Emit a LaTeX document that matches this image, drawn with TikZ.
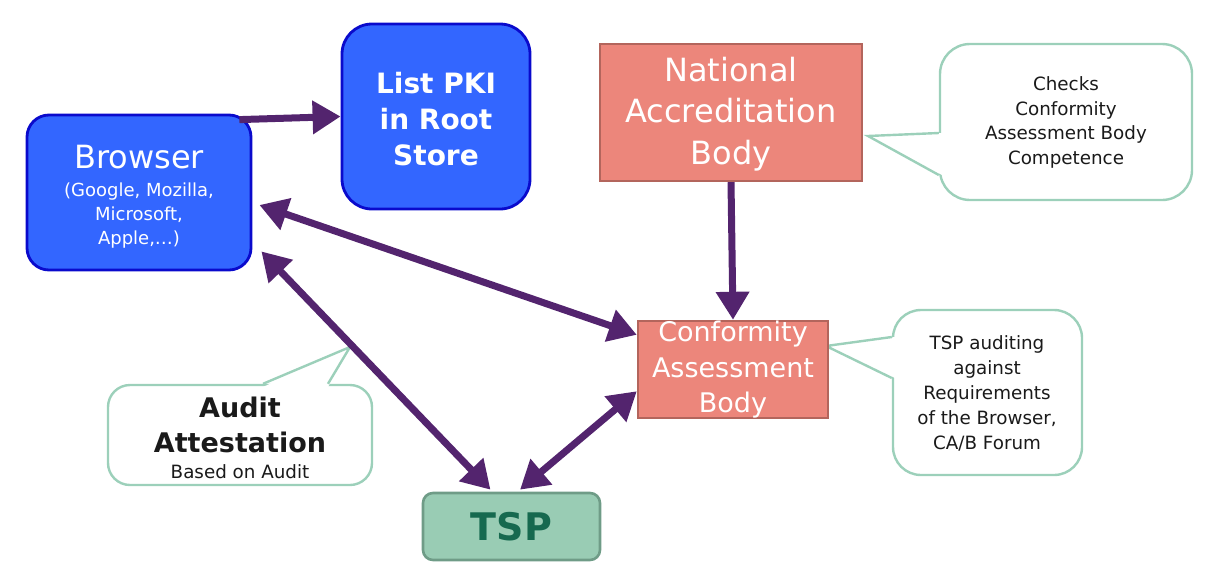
\documentclass[tikz,border=0pt]{standalone}
\usepackage{fontspec}
\setmainfont{DejaVu Sans}
\usetikzlibrary{arrows.meta,calc}
\definecolor{bluefill}{HTML}{3366FF}
\definecolor{blueline}{HTML}{0A0ACC}
\definecolor{redfill}{HTML}{EC867B}
\definecolor{redline}{HTML}{B3655C}
\definecolor{tspfill}{HTML}{99CCB4}
\definecolor{tspline}{HTML}{6F9C87}
\definecolor{tsptext}{HTML}{16694F}
\definecolor{callc}{HTML}{9CD0BA}
\definecolor{arrowc}{HTML}{53246E}
\definecolor{inkc}{HTML}{1A1A1A}
\begin{document}
\begin{tikzpicture}[x=1pt,y=-1pt,
  bluebox/.style={draw=blueline, fill=bluefill, line width=2.8pt, rounded corners=24pt, inner sep=0pt},
  redbox/.style={draw=redline, fill=redfill, line width=2.4pt, inner sep=0pt},
  callbox/.style={draw=callc, fill=white, line width=2.4pt, inner sep=0pt},
  callline/.style={draw=callc, line width=2.4pt, line join=miter},
  txt/.style={inner sep=0pt, align=center},
  conn/.style={draw=arrowc, line width=7pt, -{Triangle[length=28pt,width=32pt]}},
  bconn/.style={draw=arrowc, line width=7pt, {Triangle[length=28pt,width=32pt]}-{Triangle[length=28pt,width=32pt]}}
]
\useasboundingbox (0,0) rectangle (1206,573);

% callouts
\node[callbox, rounded corners=30pt, minimum width=252pt, minimum height=156pt] (chk) at (1066,122) {};
\fill[white] (942,133) -- (868,136) -- (942,175) -- cycle;
\draw[callline] ($(chk.west)+(0,11)$) -- (868,136) -- ($(chk.west)+(0,53)$);

\node[callbox, rounded corners=28pt, minimum width=189pt, minimum height=165pt] (req) at (987.5,392.5) {};
\fill[white] (895,337) -- (826,346) -- (895,378) -- cycle;
\draw[callline] ($(req.west)+(0,-55.5)$) -- (826,346) -- ($(req.west)+(0,-14.5)$);

\node[callbox, rounded corners=22pt, minimum width=264pt, minimum height=100pt] (att) at (240,435) {};
\fill[white] (263,387) -- (350,347) -- (328,387) -- cycle;
\draw[callline] ($(att.north)+(23,0)$) -- (350,347) -- ($(att.north)+(88,0)$);

% boxes
\node[bluebox, rounded corners=22pt, minimum width=224pt, minimum height=155pt] (browser) at (139,192.5) {};
\node[bluebox, rounded corners=30pt, minimum width=188pt, minimum height=185pt] (pki) at (436,116.5) {};
\node[redbox, minimum width=262pt, minimum height=137pt] (nab) at (731,112.5) {};
\node[redbox, minimum width=190pt, minimum height=97pt] (cab) at (733,369.5) {};
\node[draw=tspline, fill=tspfill, line width=2.6pt, rounded corners=10pt, minimum width=177pt, minimum height=67pt, inner sep=0pt] (tsp) at (511.5,526.5) {};

% texts
\node[txt, text=white, font=\fontsize{32}{36}\selectfont] (browserT) at (139,157) {Browser};
\node[txt, text=white, font=\fontsize{18}{24}\selectfont] (browserS) at (139,216) {(Google, Mozilla,\\Microsoft,\\Apple,\ldots)};
\node[txt, text=white, font=\bfseries\fontsize{28}{36}\selectfont] (pkiT) at (436,119) {List PKI\\in Root\\Store};
\node[txt, text=white, font=\fontsize{32}{41.5}\selectfont] (nabT) at (731,114) {National\\Accreditation\\Body};
\node[txt, text=white, font=\fontsize{27}{35.5}\selectfont] (cabT) at (733,370) {Conformity\\Assessment\\Body};
\node[txt, text=inkc, font=\fontsize{18.3}{24.4}\selectfont] (chkT) at (1066,122.5) {Checks\\Conformity\\Assessment Body\\Competence};
\node[txt, text=inkc, font=\fontsize{18.3}{25}\selectfont] (reqT) at (987,393) {TSP auditing\\against\\Requirements\\of the Browser,\\CA/B Forum};
\node[txt, text=inkc, font=\bfseries\fontsize{27}{35}\selectfont] (attT) at (240,424.5) {Audit\\Attestation};
\node[txt, text=inkc, font=\fontsize{18.3}{24}\selectfont] (attS) at (240,472) {Based on Audit};
\node[txt, text=tsptext, font=\bfseries\fontsize{38}{40}\selectfont] (tspT) at (511.5,527) {TSP};

% connectors
\draw[conn] ($(browser.north east)+(-13,6)$) -- (pki.west);
\draw[conn] (nab.south) -- (cab.north);
\draw[bconn] ($(browser.east)+(7,12.5)$) -- ($(cab.north west)+(0,15)$);
\draw[bconn] ($(browser.south east)+(9,-20)$) -- ($(tsp.north)+(-21,-2)$);
\draw[bconn] ($(tsp.north)+(8.5,-2)$) -- ($(cab.south west)+(0,-28)$);
\end{tikzpicture}
\end{document}
